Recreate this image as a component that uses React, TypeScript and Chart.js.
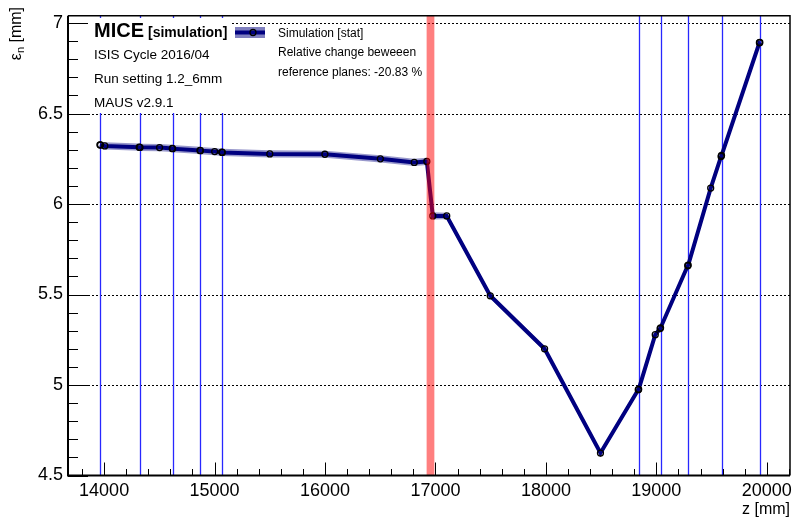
import React, { useEffect, useRef } from 'react';
import { Chart, registerables } from 'chart.js';

Chart.register(...registerables);

// Normalised transverse emittance along the beamline (simulation)
const zPositions = [
  13962, 13967, 14006, 14318, 14325, 14502, 14617, 14620, 14868, 14872,
  15001, 15066, 15070, 15500, 15999, 16501, 16808, 16922, 16976, 17102,
  17496, 17988, 18494, 18836, 18840, 18990, 19034, 19038, 19284, 19288,
  19492, 19586, 19590, 19933, 19937,
];
const emittance = [
  6.327, 6.326, 6.321, 6.314, 6.313, 6.312, 6.307, 6.306, 6.296, 6.295,
  6.290, 6.286, 6.285, 6.277, 6.275, 6.250, 6.230, 6.235, 5.934, 5.934,
  5.493, 5.200, 4.624, 4.974, 4.976, 5.278, 5.312, 5.316, 5.659, 5.662,
  6.088, 6.263, 6.268, 6.891, 6.893,
];
const statError = [
  0.02, 0.02, 0.02, 0.02, 0.02, 0.02, 0.02, 0.02, 0.02, 0.02,
  0.02, 0.02, 0.02, 0.02, 0.02, 0.02, 0.02, 0.02, 0.02, 0.018,
  0.016, 0.016, 0.016, 0.016, 0.016, 0.016, 0.016, 0.016, 0.016, 0.016,
  0.016, 0.016, 0.016, 0.016, 0.016,
];

const xTickValues = [14000, 15000, 16000, 17000, 18000, 19000, 20000];
const yTickValues = [4.5, 5, 5.5, 6, 6.5, 7];
// Tracker station planes (upstream and downstream)
const trackerPlanes = [13967, 14325, 14620, 14872, 15070, 18840, 19038, 19288, 19590, 19937];
// Absorber extent along z
const absorberRange = [16920, 16990];

const infoLines = ['ISIS Cycle 2016/04', 'Run setting 1.2_6mm', 'MAUS v2.9.1'];
const legendLabel = 'Simulation [stat]';
const changeLines = ['Relative change beweeen', 'reference planes: -20.83 %'];

const FONT = '"Liberation Sans", Arial, Helvetica, sans-serif';
const NAVY = '#000080';

const decorations = {
  id: 'decorations',
  beforeDatasetsDraw(chart: any) {
    const { ctx, chartArea: a, scales } = chart;
    const x = scales.x;
    const y = scales.y;
    ctx.save();
    // dotted horizontal grid at the major y ticks
    ctx.strokeStyle = '#000';
    ctx.lineWidth = 1;
    ctx.setLineDash([2, 2]);
    for (const v of yTickValues) {
      if (v <= y.min) continue;
      const py = Math.round(y.getPixelForValue(v)) + 0.5;
      ctx.beginPath();
      ctx.moveTo(a.left, py);
      ctx.lineTo(a.right, py);
      ctx.stroke();
    }
    ctx.setLineDash([]);
    // tracker station planes
    ctx.strokeStyle = 'rgb(40,40,255)';
    ctx.lineWidth = 1.3;
    for (const z of trackerPlanes) {
      const px = Math.round(x.getPixelForValue(z)) + 0.5;
      ctx.beginPath();
      ctx.moveTo(px, a.top);
      ctx.lineTo(px, a.bottom);
      ctx.stroke();
    }
    ctx.restore();
  },
  afterDatasetsDraw(chart: any) {
    const { ctx, chartArea: a, scales } = chart;
    const x = scales.x;
    const y = scales.y;
    ctx.save();

    // absorber band
    const bx0 = x.getPixelForValue(absorberRange[0]);
    const bx1 = x.getPixelForValue(absorberRange[1]);
    ctx.fillStyle = 'rgba(255,0,0,0.5)';
    ctx.fillRect(bx0, a.top, bx1 - bx0, a.bottom - a.top);

    // info box
    ctx.fillStyle = '#fff';
    ctx.fillRect(70, 18, 161, 95);
    ctx.fillStyle = '#000';
    ctx.textAlign = 'left';
    ctx.textBaseline = 'alphabetic';
    ctx.font = `bold 20px ${FONT}`;
    ctx.fillText('MICE', 94, 37);
    const wMice = ctx.measureText('MICE').width;
    ctx.font = `bold 14px ${FONT}`;
    ctx.fillText('[simulation]', 94 + wMice + 4, 37);
    ctx.font = `13.5px ${FONT}`;
    infoLines.forEach((t, i) => ctx.fillText(t, 94, 59 + i * 24));

    // legend entry
    ctx.fillStyle = 'rgba(0,0,128,0.5)';
    ctx.fillRect(235, 27, 30, 11);
    ctx.strokeStyle = NAVY;
    ctx.lineWidth = 4;
    ctx.beginPath();
    ctx.moveTo(235, 32.5);
    ctx.lineTo(265, 32.5);
    ctx.stroke();
    ctx.strokeStyle = '#000';
    ctx.lineWidth = 1.3;
    ctx.beginPath();
    ctx.arc(253, 32.5, 3, 0, Math.PI * 2);
    ctx.stroke();
    ctx.fillStyle = '#000';
    ctx.font = `12px ${FONT}`;
    ctx.fillText(legendLabel, 278, 36.5);
    changeLines.forEach((t, i) => ctx.fillText(t, 278, 56 + i * 19.5));

    // frame
    ctx.strokeStyle = '#000';
    ctx.lineWidth = 1.5;
    ctx.beginPath();
    ctx.moveTo(a.left, a.top);
    ctx.lineTo(a.right, a.top);
    ctx.lineTo(a.right, a.bottom);
    ctx.stroke();
    ctx.lineWidth = 2;
    ctx.beginPath();
    ctx.moveTo(a.left, a.top);
    ctx.lineTo(a.left, a.bottom);
    ctx.lineTo(a.right, a.bottom);
    ctx.stroke();

    // inner tick marks
    ctx.lineWidth = 1;
    for (let v = Math.ceil(x.min / 200) * 200; v <= x.max; v += 200) {
      const px = Math.round(x.getPixelForValue(v)) + 0.5;
      const len = v % 1000 === 0 ? 13 : 6.5;
      ctx.beginPath();
      ctx.moveTo(px, a.bottom);
      ctx.lineTo(px, a.bottom - len);
      ctx.stroke();
    }
    for (let k = 45; k <= 70; k++) {
      const v = k / 10;
      const py = Math.round(y.getPixelForValue(v)) + 0.5;
      const len = k % 5 === 0 ? 20 : 10;
      ctx.beginPath();
      ctx.moveTo(a.left, py);
      ctx.lineTo(a.left + len, py);
      ctx.stroke();
    }

    // y-axis title with subscript
    ctx.translate(16.5, 7);
    ctx.rotate(-Math.PI / 2);
    ctx.fillStyle = '#000';
    ctx.textBaseline = 'middle';
    ctx.font = `16px ${FONT}`;
    const wEps = ctx.measureText('ε').width;
    const wUnit = ctx.measureText(' [mm]').width;
    ctx.font = `11px ${FONT}`;
    const wSub = ctx.measureText('n').width;
    let cx = -(wEps + wSub + wUnit);
    ctx.font = `16px ${FONT}`;
    ctx.fillText('ε', cx, 0);
    cx += wEps;
    ctx.font = `11px ${FONT}`;
    ctx.fillText('n', cx, 4);
    cx += wSub;
    ctx.font = `16px ${FONT}`;
    ctx.fillText(' [mm]', cx, 0);

    ctx.restore();
  },
};

export default function App() {
  const canvasRef = useRef<HTMLCanvasElement | null>(null);

  useEffect(() => {
    const canvas = canvasRef.current;
    if (!canvas) return;
    Chart.defaults.font.family = FONT;

    const main = zPositions.map((z, i) => ({ x: z, y: emittance[i] }));
    const upper = zPositions.map((z, i) => ({ x: z, y: emittance[i] + statError[i] }));
    const lower = zPositions.map((z, i) => ({ x: z, y: emittance[i] - statError[i] }));

    const chart = new Chart(canvas, {
      type: 'line',
      data: {
        datasets: [
          {
            label: legendLabel,
            data: main,
            borderColor: NAVY,
            borderWidth: 4,
            tension: 0,
            fill: false,
            pointRadius: 3,
            pointBorderWidth: 1.3,
            pointBorderColor: '#000',
            pointBackgroundColor: 'rgba(0,0,0,0)',
          },
          {
            label: 'stat upper',
            data: upper,
            borderColor: 'rgba(0,0,0,0)',
            borderWidth: 0,
            pointRadius: 0,
            tension: 0,
            fill: '+1',
            backgroundColor: 'rgba(0,0,128,0.4)',
          },
          {
            label: 'stat lower',
            data: lower,
            borderColor: 'rgba(0,0,0,0)',
            borderWidth: 0,
            pointRadius: 0,
            tension: 0,
            fill: false,
          },
        ],
      },
      options: {
        responsive: false,
        devicePixelRatio: 1,
        animation: false,
        events: [],
        layout: { padding: { top: 7, right: 4, left: 0, bottom: 0 } },
        plugins: {
          legend: { display: false },
          tooltip: { enabled: false },
          title: { display: false },
        },
        scales: {
          x: {
            type: 'linear',
            position: 'bottom',
            min: 13673,
            max: 20210,
            grid: { display: false, drawTicks: false },
            border: { display: false },
            afterBuildTicks: (s: any) => {
              s.ticks = xTickValues.map((v) => ({ value: v }));
            },
            afterFit: (s: any) => {
              s.height = 43.5;
            },
            ticks: {
              color: '#000',
              font: { family: FONT, size: 18 },
              padding: 5,
              maxRotation: 0,
              autoSkip: false,
              callback: (v: any) => String(v),
            },
            title: {
              display: true,
              text: 'z [mm]',
              align: 'end',
              color: '#000',
              font: { family: FONT, size: 16 },
              padding: 0,
            },
          },
          y: {
            type: 'linear',
            min: 4.5,
            max: 7.04,
            grid: { display: false, drawTicks: false },
            border: { display: false },
            afterBuildTicks: (s: any) => {
              s.ticks = yTickValues.map((v) => ({ value: v }));
            },
            afterFit: (s: any) => {
              s.width = 68;
            },
            ticks: {
              color: '#000',
              font: { family: FONT, size: 18 },
              padding: 5,
              callback: (v: any) => String(v),
            },
          },
        },
      } as any,
      plugins: [decorations],
    });

    return () => chart.destroy();
  }, []);

  return (
    <div style={{ position: 'absolute', left: 0, top: 0, width: 797, height: 519, background: '#fff' }}>
      <canvas ref={canvasRef} width={797} height={519} style={{ display: 'block' }} />
    </div>
  );
}
